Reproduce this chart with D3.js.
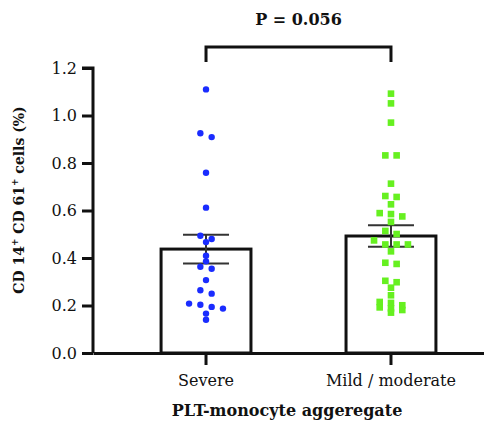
<!DOCTYPE html>
<meta charset="utf-8">
<style>
body {
  margin: 0;
  background: #fff;
}
text {
  font-family: "DejaVu Serif", serif;
  fill: #111;
}
.axis path, .axis line {
  stroke: #111;
  stroke-width: 3;
}
.axis text {
  font-size: 16px;
}
</style>
<body>
<script src="https://cdn.jsdelivr.net/npm/d3@7"></script>
<script>

var width = 484,
    height = 425;

var groups = ["Severe", "Mild / moderate"];
var colors = ["#1a2cff", "#66f020"];

var severe = [1.110, 0.925, 0.909, 0.759, 0.612, 0.494, 0.480, 0.467, 0.410, 0.386,
  0.363, 0.355, 0.307, 0.264, 0.250, 0.208, 0.203, 0.194, 0.187, 0.166, 0.140];

var mild = [1.092, 1.051, 0.970, 0.832, 0.832, 0.713, 0.661, 0.657, 0.626, 0.589,
  0.585, 0.575, 0.552, 0.514, 0.501, 0.474, 0.457, 0.457, 0.457, 0.428, 0.380,
  0.375, 0.304, 0.298, 0.275, 0.243, 0.215, 0.211, 0.201, 0.192, 0.188, 0.181, 0.170];

var yTicks = [0, 0.2, 0.4, 0.6, 0.8, 1.0, 1.2];
var pLabel = "P = 0.056";

var svg = d3.select("body").append("svg")
    .attr("width", width)
    .attr("height", height);

var x = d3.scaleBand()
    .domain(groups)
    .range([93, 504])
    .paddingInner(0.514)
    .paddingOuter(0.368);

var y = d3.scaleLinear()
    .domain([0, 1.2])
    .range([353, 68]);

var series = [severe, mild].map(function(vals, i) {
  var m = d3.mean(vals);
  var sem = d3.deviation(vals) / Math.sqrt(vals.length);
  return {name: groups[i], values: vals, mean: m, sem: sem, color: colors[i], shape: i};
});

// bars
svg.selectAll(".bar")
    .data(series)
  .enter().append("rect")
    .attr("class", "bar")
    .attr("x", function(d) { return x(d.name); })
    .attr("width", x.bandwidth())
    .attr("y", function(d) { return y(d.mean); })
    .attr("height", function(d) { return y(0) - y(d.mean); })
    .attr("fill", "#fff")
    .attr("stroke", "#111")
    .attr("stroke-width", 3);

// axes
svg.append("g")
    .attr("class", "axis")
    .attr("transform", "translate(93,0)")
    .call(d3.axisLeft(y).tickValues(yTicks).tickFormat(d3.format(".1f")).tickSize(11).tickPadding(5))
    .call(function(g) { g.select(".domain").attr("d", "M-11," + y(1.2) + "H0V" + y(0)); });

svg.append("g")
    .attr("class", "axis")
    .attr("transform", "translate(0,353)")
    .call(d3.axisBottom(x).tickSize(12).tickPadding(5).tickSizeOuter(0))
    .call(function(g) { g.selectAll(".tick text").attr("dy", "1em"); });

// error bars (mean +/- SEM)
var eb = svg.selectAll(".err")
    .data(series)
  .enter().append("g")
    .attr("class", "err")
    .attr("stroke", "#333")
    .attr("stroke-width", 2);

eb.append("line")
    .attr("x1", function(d) { return x(d.name) + x.bandwidth() / 2; })
    .attr("x2", function(d) { return x(d.name) + x.bandwidth() / 2; })
    .attr("y1", function(d) { return y(d.mean + d.sem); })
    .attr("y2", function(d) { return y(d.mean - d.sem); });

[1, -1].forEach(function(s) {
  eb.append("line")
      .attr("x1", function(d) { return x(d.name) + x.bandwidth() / 2 - 23; })
      .attr("x2", function(d) { return x(d.name) + x.bandwidth() / 2 + 23; })
      .attr("y1", function(d) { return y(d.mean + s * d.sem); })
      .attr("y2", function(d) { return y(d.mean + s * d.sem); });
});

// scatter, rows spread sideways like a prism dot plot
var step = 11.3, rowGap = 5;
function swarm(vals, cx) {
  var sorted = vals.slice().sort(d3.descending);
  var rows = [], cur = null;
  sorted.forEach(function(v) {
    if (cur && y(v) - y(cur[0]) < rowGap) cur.push(v);
    else { cur = [v]; rows.push(cur); }
  });
  var pts = [];
  rows.forEach(function(r) {
    r.forEach(function(v, i) {
      pts.push({v: v, px: cx + (i - (r.length - 1) / 2) * step, py: y(v)});
    });
  });
  return pts;
}

series.forEach(function(s) {
  var cx = x(s.name) + x.bandwidth() / 2;
  var pts = swarm(s.values, cx);
  if (s.shape === 0) {
    svg.selectAll(".dot0")
        .data(pts)
      .enter().append("circle")
        .attr("class", "dot0")
        .attr("cx", function(d) { return d.px; })
        .attr("cy", function(d) { return d.py; })
        .attr("r", 3.2)
        .attr("fill", s.color);
  } else {
    svg.selectAll(".dot1")
        .data(pts)
      .enter().append("rect")
        .attr("class", "dot1")
        .attr("x", function(d) { return d.px - 3.3; })
        .attr("y", function(d) { return d.py - 3.3; })
        .attr("width", 6.6)
        .attr("height", 6.6)
        .attr("fill", s.color);
  }
});

// significance bracket
var c0 = x(groups[0]) + x.bandwidth() / 2,
    c1 = x(groups[1]) + x.bandwidth() / 2;
svg.append("path")
    .attr("d", "M" + c0 + ",62V47H" + c1 + "V62")
    .attr("fill", "none")
    .attr("stroke", "#111")
    .attr("stroke-width", 3);

svg.append("text")
    .attr("x", (c0 + c1) / 2)
    .attr("y", 25)
    .attr("text-anchor", "middle")
    .style("font-size", "16px")
    .style("font-weight", "bold")
    .text(pLabel);

// axis titles
svg.append("text")
    .attr("x", 287)
    .attr("y", 416)
    .attr("text-anchor", "middle")
    .style("font-size", "16px")
    .style("font-weight", "bold")
    .text("PLT-monocyte aggeregate");

var yl = svg.append("text")
    .attr("transform", "translate(24,200) rotate(-90)")
    .attr("text-anchor", "middle")
    .style("font-size", "14px")
    .style("font-weight", "bold");
yl.append("tspan").text("CD 14");
yl.append("tspan").attr("dy", -6).style("font-size", "9px").text("+");
yl.append("tspan").attr("dy", 6).text(" CD 61");
yl.append("tspan").attr("dy", -6).style("font-size", "9px").text("+");
yl.append("tspan").attr("dy", 6).text(" cells (%)");

</script>
